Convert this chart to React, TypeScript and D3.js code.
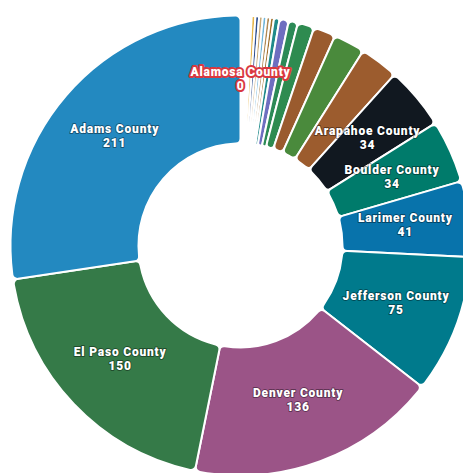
import React from 'react';
import * as d3 from 'd3';

// Slices in clockwise order starting at 12 o'clock (ascending values)
const counties = [
  'Alamosa County',
  'Archuleta County', 'Baca County', 'Bent County', 'Chaffee County', 'Cheyenne County', 'Clear Creek County',
  'Conejos County', 'Costilla County', 'Crowley County', 'Custer County', 'Delta County', 'Dolores County',
  'Eagle County',
  'Fremont County', 'Garfield County',
  'La Plata County', 'Pueblo County', 'Mesa County', 'Douglas County',
  'Arapahoe County', 'Boulder County', 'Larimer County', 'Jefferson County',
  'Denver County', 'El Paso County', 'Adams County',
];
const values = [
  0,
  1, 1, 1, 1, 1, 1,
  2, 2, 2, 2, 2, 2,
  3,
  5, 5,
  9, 12, 17, 21,
  34, 34, 41, 75,
  136, 150, 211,
];
const palette = [
  '#d9383f',
  '#f2d7a0', '#cfe3ef', '#e9d3b0', '#d5e6d5', '#eadcc8', '#d9dff0',
  '#e6b54a', '#2f4f8f', '#c9ab7a', '#6fb5da', '#b08a55', '#a0702e',
  '#1f8a8a',
  '#6e6ec0', '#2c8a56',
  '#2e8b50', '#9a5b2e', '#4a8a3c', '#9c5c2e',
  '#111820', '#007b6b', '#0873ab', '#007a8c',
  '#9b5487', '#357a48', '#2389c0',
];
const labeledCounties = [
  'Alamosa County', 'Arapahoe County', 'Boulder County', 'Larimer County',
  'Jefferson County', 'Denver County', 'El Paso County', 'Adams County',
];
const highlightedCounty = 'Alamosa County';

export default function App() {
  const W = 463, H = 473;
  const cx = 240.5, cy = 245.5, R = 230, r = 102;
  const data = counties.map((name, i) => ({ name, value: values[i], color: palette[i] }));
  const pie = d3.pie<any>().sort(null).value((d: any) => d.value).startAngle(0).endAngle(2 * Math.PI);
  const arcs = pie(data);
  const arc = d3.arc<any>().innerRadius(r).outerRadius(R).cornerRadius(5);
  const labelArc = d3.arc<any>().innerRadius((r + R) / 2).outerRadius((r + R) / 2);

  return (
    <svg width={W} height={H} viewBox={`0 0 ${W} ${H}`}
      style={{ position: 'absolute', left: 0, top: 0, background: '#fff' }}>
      <g transform={`translate(${cx},${cy})`}>
        {arcs.map((a: any, i: number) => (
          a.value > 0 ? (
            <path key={i} d={arc(a) || ''} fill={a.data.color} stroke="#fff" strokeWidth={2} strokeLinejoin="round" />
          ) : null
        ))}
        {arcs.filter((a: any) => labeledCounties.includes(a.data.name)).map((a: any, i: number) => {
          const [x, y] = labelArc.centroid(a);
          const hl = a.data.name === highlightedCounty;
          const common: any = {
            x, textAnchor: 'middle', dominantBaseline: 'middle',
            fontFamily: 'Roboto, "Open Sans", sans-serif', fontWeight: 900, fontSize: 12,
            letterSpacing: 0.8,
            fill: '#fff',
            stroke: hl ? '#d9383f' : 'rgba(0,0,0,0.4)',
            strokeWidth: hl ? 4 : 1.8,
            strokeLinejoin: 'round',
            paintOrder: 'stroke',
          };
          return (
            <g key={i}>
              <text {...common} y={y - 7}>{a.data.name}</text>
              <text {...common} y={y + 7}>{a.data.value}</text>
            </g>
          );
        })}
      </g>
    </svg>
  );
}
